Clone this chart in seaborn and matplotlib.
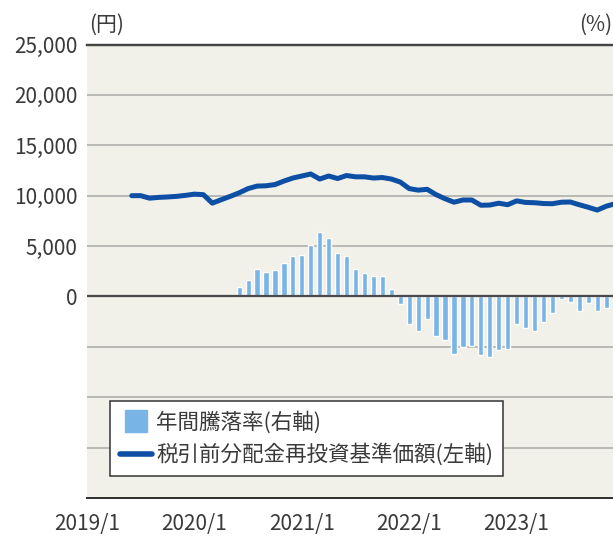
import numpy as np
import pandas as pd
import matplotlib
matplotlib.use('Agg')
import matplotlib.pyplot as plt
from matplotlib.lines import Line2D
import seaborn as sns

# months counted from 2019/1 (0 = 2019/1)
line_months = list(range(5, 60))
nav = [10000, 10000, 9750, 9830, 9870, 9930, 10030, 10150, 10100, 9260,
       9600, 9930, 10280, 10700, 10950, 10980, 11100, 11450, 11750, 11950,
       12150, 11650, 11950, 11700, 12000, 11870, 11870, 11750, 11800, 11650,
       11350, 10700, 10550, 10630, 10100, 9700, 9350, 9570, 9570, 9050,
       9070, 9250, 9100, 9480, 9330, 9300, 9220, 9200, 9350, 9370,
       9100, 8850, 8570, 8950, 9200]

bar_months = list(range(17, 59))
ret = [3.7, 6.5, 10.9, 9.7, 10.5, 13.3, 16.1, 16.5, 20.5, 25.7,
       23.3, 17.3, 16.1, 10.9, 9.3, 8.1, 8.1, 2.9, -3.0, -10.8,
       -13.6, -9.0, -15.6, -17.2, -22.8, -20.0, -19.6, -23.2, -24.0, -21.2,
       -20.8, -10.8, -12.4, -13.6, -10.0, -6.4, -1.0, -2.2, -5.8, -2.6,
       -5.8, -4.6]

xtick_pos = [0, 12, 24, 36, 48]
xtick_labels = ['2019/1', '2020/1', '2021/1', '2022/1', '2023/1']

label_bar = '年間騰落率(右軸)'
label_line = '税引前分配金再投資基準価額(左軸)'

sns.set_style('white')
plt.rcParams['font.family'] = ['Noto Sans CJK JP', 'DejaVu Sans']

c_text = '#3a3a3a'
c_bar = '#78b4e6'
c_line = '#0d4fa4'

fig = plt.figure(figsize=(6.13, 5.37), dpi=100)
ax = fig.add_axes([87 / 613, 39 / 537, 533 / 613, 453.5 / 537])
ax.set_facecolor('#f1f0e9')

sns.lineplot(x=line_months, y=nav, ax=ax, color=c_line, linewidth=3.6, zorder=3)

ax.set_ylim(-20000, 25000)
yt = list(range(-20000, 25001, 5000))
ax.set_yticks(yt)
ax.set_yticklabels([f'{v:,}' if v >= 0 else '' for v in yt])
ax.tick_params(axis='y', length=0, labelsize=15, colors=c_text, pad=7)
ax.grid(axis='y', color='#a9a9a6', linewidth=1.1)
ax.grid(axis='x', visible=False)
ax.set_axisbelow(True)

ax2 = ax.twinx()
sns.barplot(x=bar_months, y=ret, native_scale=True, ax=ax2, color=c_bar,
            width=0.58, saturation=1, zorder=3)
ax2.set_ylim(-80, 100)
ax2.set_yticks([])
ax2.set_ylabel('')
ax2.set_xlabel('')
# zero line drawn over the bars
ax2.axhline(0, color='#4a4a4a', linewidth=1.6, zorder=5)

ax.set_xlim(0, 59.55)
ax.set_xticks(xtick_pos)
ax.set_xticklabels(xtick_labels)
ax.tick_params(axis='x', direction='in', length=6, width=1, color='#333333',
               labelsize=15, colors=c_text, pad=11)
ax.xaxis.get_major_ticks()[0].tick1line.set_visible(False)
ax.set_xlabel('')
ax.set_ylabel('')

for a in (ax, ax2):
    a.spines['left'].set_visible(False)
    a.spines['right'].set_visible(False)
    a.spines['top'].set_color('#444444')
    a.spines['top'].set_linewidth(1.6)
    a.spines['bottom'].set_color('#333333')
    a.spines['bottom'].set_linewidth(1.4)

handles = [
    Line2D([], [], marker='s', linestyle='none', markersize=16.5,
           markerfacecolor=c_bar, markeredgecolor=c_bar),
    Line2D([], [], color=c_line, linewidth=4),
]
leg = ax2.legend(handles, [label_bar, label_line], loc='lower left',
                 bbox_to_anchor=(0.043, 0.049), borderaxespad=0,
                 fontsize=15.5, frameon=True, fancybox=False, framealpha=1,
                 edgecolor='#333333', handlelength=1.5, handletextpad=0.2,
                 labelspacing=0.45, borderpad=0.45, labelcolor=c_text)
leg.get_frame().set_linewidth(1.1)
leg.set_zorder(10)

fig.text(89 / 613, 1 - 25 / 537, '(円)', fontsize=15, color=c_text,
         ha='left', va='center')
fig.text(612 / 613, 1 - 25 / 537, '(%)', fontsize=15, color=c_text,
         ha='right', va='center')

fig.savefig('out.png', dpi=100)
